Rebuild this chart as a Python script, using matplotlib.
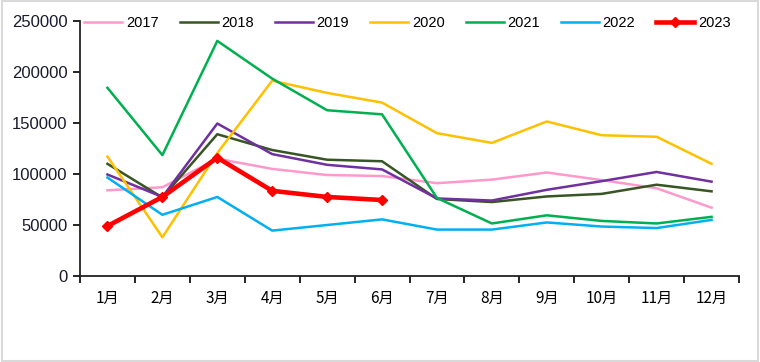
import matplotlib
matplotlib.use('Agg')
import matplotlib.pyplot as plt
from matplotlib.patches import Rectangle

plt.rcParams['font.family'] = ['Liberation Sans', 'Noto Sans CJK SC', 'DejaVu Sans']

months = ['1月', '2月', '3月', '4月', '5月', '6月', '7月', '8月', '9月', '10月', '11月', '12月']

y2017 = [84000, 87000, 115000, 105000, 99000, 98000, 91000, 94500, 101500, 94000, 86000, 67000]
y2018 = [110000, 77000, 139000, 123500, 114000, 112500, 75500, 72500, 78000, 80500, 89500, 83000]
y2019 = [99500, 77500, 149500, 119500, 109000, 104500, 76000, 74000, 84500, 93000, 102000, 92500]
y2020 = [117000, 38000, 120500, 191500, 179500, 170000, 140000, 130500, 151500, 138000, 136500, 110000]
y2021 = [184500, 118500, 230500, 193500, 162500, 158500, 76500, 51500, 59500, 54000, 51500, 58000]
y2022 = [96500, 60000, 77500, 44500, 50000, 55500, 45500, 45500, 52500, 48500, 47000, 55000]
y2023 = [49000, 77500, 116000, 83500, 77500, 74500]

series = [
    ('2017', y2017, '#FF99CC'),
    ('2018', y2018, '#375623'),
    ('2019', y2019, '#7030A0'),
    ('2020', y2020, '#FFC000'),
    ('2021', y2021, '#00B050'),
    ('2022', y2022, '#00B0F0'),
]

fig = plt.figure(figsize=(7.6, 3.62), dpi=100)
ax = fig.add_axes([80 / 760, 1 - 276 / 362, 659 / 760, 255 / 362])

x = list(range(1, 13))
for name, vals, col in series:
    ax.plot(x, vals, color=col, lw=1.8, label=name)
ax.plot(x[:len(y2023)], y2023, color='#FF0000', lw=3.3, marker='D', ms=5.5,
        label='2023')

ax.set_xlim(0.5, 12.5)
ax.set_ylim(0, 250000)
ax.set_yticks(range(0, 250001, 50000))
ax.set_xticks([i + 0.5 for i in range(0, 13)])
ax.set_xticklabels([])
ax.set_xticks(x, minor=True)
ax.set_xticklabels(months, minor=True, fontsize=11,
                   family=['Noto Sans CJK SC', 'DejaVu Sans'])
ax.tick_params(axis='x', which='minor', length=0, pad=10)
ax.tick_params(axis='x', which='major', length=5, width=1.2, direction='out')
ax.tick_params(axis='y', length=5, width=1.2, direction='out', labelsize=12,
               pad=4, labelcolor='#1a1a2e')

for s in ['top', 'right']:
    ax.spines[s].set_visible(False)
for s in ['left', 'bottom']:
    ax.spines[s].set_linewidth(1.3)
    ax.spines[s].set_color('#222222')

ax.legend(loc='center', bbox_to_anchor=(0.497, 0.992), ncol=7, frameon=False,
          fontsize=10.5, handlelength=2.6, handletextpad=0.25,
          columnspacing=1.45, borderaxespad=0)

fig.patches.append(Rectangle((0.002, 0.004), 0.995, 0.992, transform=fig.transFigure,
                             fill=False, edgecolor='#D9D9D9', lw=1.5))

fig.savefig('out.png', dpi=100)
